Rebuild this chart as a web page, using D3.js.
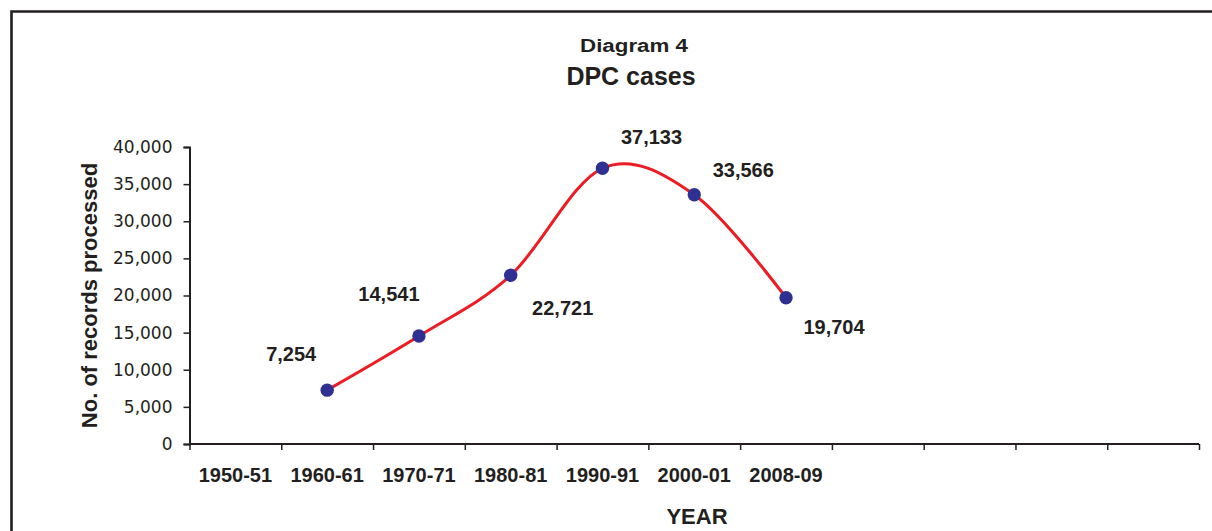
<!DOCTYPE html>
<html>
<head>
<meta charset="utf-8">
<script src="https://cdn.jsdelivr.net/npm/d3@7"></script>
<style>
  html, body { margin: 0; padding: 0; background: #fff; }
  svg { display: block; }
</style>
</head>
<body>
<svg id="chart" width="1212" height="531"></svg>
<script>
// ---- data ----
const categories = ["1950-51", "1960-61", "1970-71", "1980-81", "1990-91", "2000-01", "2008-09", "", "", "", ""];
const values = [null, 7254, 14541, 22721, 37133, 33566, 19704, null, null, null, null];
const yTicks = [0, 5000, 10000, 15000, 20000, 25000, 30000, 35000, 40000];
const titleLine1 = "Diagram 4";
const titleLine2 = "DPC cases";
const yTitle = "No. of records processed";
const xTitle = "YEAR";

// label offsets (styling, relative to each point)
const labelOffsets = [null, [-36, -29], [-30, -35], [52, 40], [49, -24], [49, -18], [48, 36]];

(function () {
const ink = "#231f20";
const svg = d3.select("#chart");

// frame (only left/top edges visible in the crop)
svg.append("path")
  .attr("d", "M11.5,531 L11.5,11.5 L1212,11.5")
  .attr("fill", "none").attr("stroke", ink).attr("stroke-width", 2.6);

const pLeft = 189.5, pRight = 1199, pTop = 147, pBottom = 444;

const x = d3.scaleBand().domain(d3.range(categories.length)).range([pLeft, pRight]).paddingInner(0).paddingOuter(0);
const xEdge = d3.scaleLinear().domain([0, categories.length]).range([pLeft, pRight]);
const y = d3.scaleLinear().domain([0, 40000]).range([pBottom, pTop]);

// y axis
const yAxis = svg.append("g").attr("transform", `translate(${pLeft},0)`)
  .call(d3.axisLeft(y).tickValues(yTicks).tickSize(6).tickPadding(11).tickFormat(d3.format(",")));
yAxis.select(".domain").attr("stroke", ink).attr("stroke-width", 2);
yAxis.selectAll(".tick line").attr("stroke", ink).attr("stroke-width", 1.5);
yAxis.selectAll(".tick text").attr("fill", ink)
  .style("font-family", "'DejaVu Sans', sans-serif").style("font-size", "17px");

// x axis: boundary ticks
const xTickAxis = svg.append("g").attr("transform", `translate(0,${pBottom})`)
  .call(d3.axisBottom(xEdge).tickValues(d3.range(categories.length + 1)).tickSize(6).tickFormat(""));
xTickAxis.select(".domain").attr("stroke", ink).attr("stroke-width", 2).attr("d", `M${pLeft},0H${pRight}`);
xTickAxis.selectAll(".tick line").attr("stroke", ink).attr("stroke-width", 1.5);

// x axis: category labels
const xLab = svg.append("g").attr("transform", `translate(0,${pBottom})`)
  .call(d3.axisBottom(x).tickSize(0).tickPadding(24).tickFormat(i => categories[i]));
xLab.select(".domain").remove();
xLab.selectAll(".tick text").attr("fill", ink)
  .style("font-family", "'Liberation Sans', Arial, sans-serif").style("font-size", "20px").style("font-weight", "bold");

// line
const pts = values.map((v, i) => ({ i, v })).filter(d => d.v !== null);
const line = d3.line()
  .x(d => x(d.i) + x.bandwidth() / 2)
  .y(d => y(d.v))
  .curve(d3.curveCardinal.tension(0));
svg.append("path").datum(pts)
  .attr("d", line).attr("fill", "none")
  .attr("stroke", "#ed1c24").attr("stroke-width", 3);

// markers
svg.append("g").selectAll("circle").data(pts).join("circle")
  .attr("cx", d => x(d.i) + x.bandwidth() / 2)
  .attr("cy", d => y(d.v))
  .attr("r", 6.7)
  .attr("fill", "#2e3192");

// data labels
svg.append("g").selectAll("text").data(pts).join("text")
  .attr("x", d => x(d.i) + x.bandwidth() / 2 + labelOffsets[d.i][0])
  .attr("y", d => y(d.v) + labelOffsets[d.i][1])
  .attr("text-anchor", "middle")
  .attr("fill", ink)
  .style("font-family", "'Liberation Sans', Arial, sans-serif")
  .style("font-size", "20px").style("font-weight", "bold")
  .text(d => d3.format(",")(d.v));

// titles
svg.append("text").attr("x", 634).attr("y", 52).attr("text-anchor", "middle")
  .attr("fill", ink)
  .attr("textLength", 108).attr("lengthAdjust", "spacingAndGlyphs")
  .style("font-family", "'Liberation Sans', Arial, sans-serif").style("font-size", "17.5px").style("font-weight", "bold")
  .text(titleLine1);
svg.append("text").attr("x", 631).attr("y", 85).attr("text-anchor", "middle")
  .attr("fill", ink)
  .style("font-family", "'Liberation Sans', Arial, sans-serif").style("font-size", "25px").style("font-weight", "bold")
  .text(titleLine2);

// axis titles
svg.append("text")
  .attr("transform", `translate(97,${(pTop + pBottom) / 2}) rotate(-90)`)
  .attr("text-anchor", "middle").attr("fill", ink)
  .style("font-family", "'Liberation Sans', Arial, sans-serif").style("font-size", "22px").style("font-weight", "bold")
  .text(yTitle);
svg.append("text").attr("x", 697).attr("y", 524).attr("text-anchor", "middle")
  .attr("fill", ink)
  .style("font-family", "'Liberation Sans', Arial, sans-serif").style("font-size", "22px").style("font-weight", "bold")
  .text(xTitle);
})();
</script>
</body>
</html>
